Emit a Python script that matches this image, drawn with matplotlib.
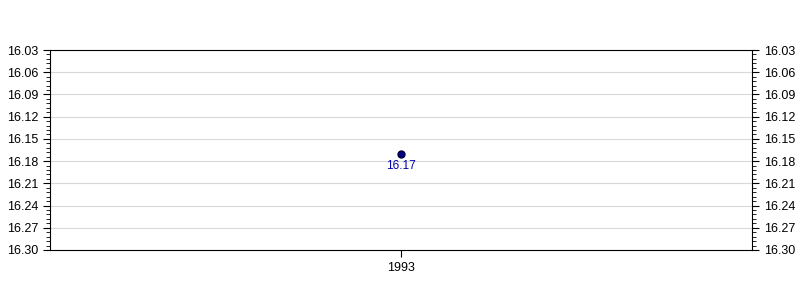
import numpy as np
import matplotlib.pyplot as plt
from matplotlib.ticker import FixedLocator

years = [1993]
values = [16.17]
labels = ["16.17"]

# y-axis range (inverted) and tick steps
y_top, y_bottom = 16.03, 16.30

plt.rcParams['font.family'] = ['Liberation Sans', 'DejaVu Sans']

fig = plt.figure(figsize=(8, 3), dpi=100)
ax = fig.add_axes([0.0625, 0.1667, 0.8775, 0.6666])

ax.plot(years, values, 'o', color='#000080', markersize=5, markeredgecolor='#000040', zorder=3)
for x, y, t in zip(years, values, labels):
    ax.annotate(t, (x, y), xytext=(0, -8.5), textcoords='offset points',
                ha='center', va='center', color='#0000aa', fontsize=8.5)

ax.set_xlim(1992, 1994)
ax.set_xticks(years)
ax.set_xticklabels([str(y) for y in years])

ax.set_ylim(y_bottom, y_top)
ax.yaxis.set_major_locator(FixedLocator(np.linspace(y_top, y_bottom, 10)))
ax.yaxis.set_minor_locator(FixedLocator(np.linspace(y_top, y_bottom, 46)))
ax.yaxis.set_major_formatter(plt.FormatStrFormatter('%.2f'))
ax.tick_params(axis='y', which='both', left=True, right=True, labelleft=True, labelright=True)
ax.tick_params(axis='both', which='major', length=5, labelsize=9, direction='out')
ax.tick_params(axis='y', which='minor', length=3, direction='out')
ax.grid(axis='y', which='major', color='#d8d8d8', linewidth=0.8)
ax.set_axisbelow(True)

plt.savefig("out.png", dpi=100)
